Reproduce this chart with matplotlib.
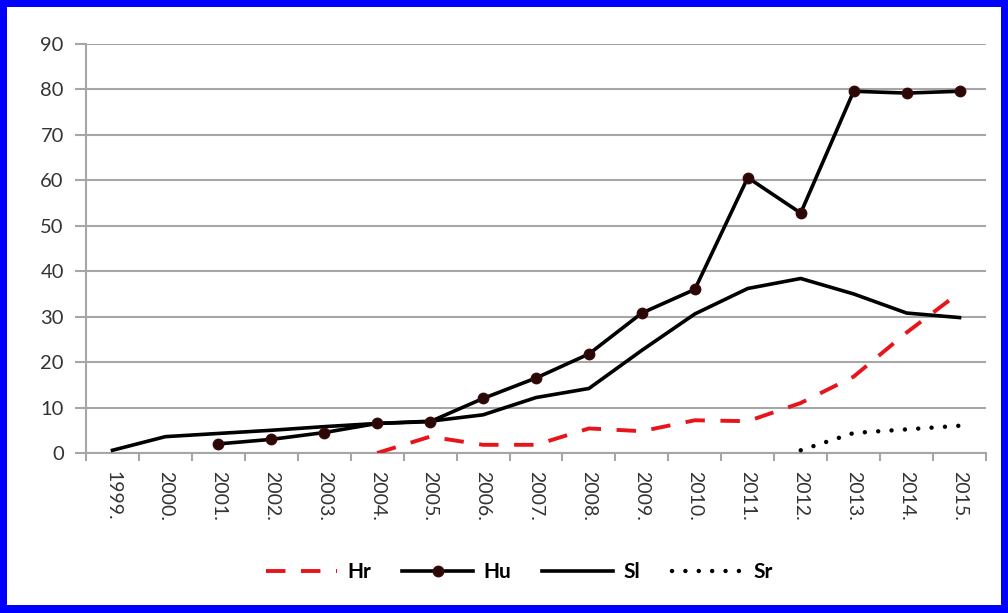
import matplotlib
matplotlib.use('Agg')
import matplotlib.pyplot as plt
import matplotlib.patches as mpatches
import numpy as np

# ======== Data ========
years = ['1999.', '2000.', '2001.', '2002.', '2003.', '2004.', '2005.', '2006.',
         '2007.', '2008.', '2009.', '2010.', '2011.', '2012.', '2013.', '2014.', '2015.']
nan = np.nan
hr = [nan, nan, nan, nan, nan, 0.0, 3.6, 1.8, 1.8, 5.4, 4.8, 7.2, 7.0, 11.0, 16.8, 26.5, 35.3]
hu = [nan, nan, 2.0, 3.0, 4.5, 6.5, 6.9, 12.0, 16.5, 21.8, 30.8, 36.0, 60.6, 52.8, 79.6, 79.2, 79.6]
sl = [0.6, 3.6, 4.3, 5.0, 5.8, 6.5, 7.0, 8.4, 12.2, 14.2, 22.6, 30.6, 36.2, 38.4, 35.0, 30.8, 29.8]
sr = [nan, nan, nan, nan, nan, nan, nan, nan, nan, nan, nan, nan, nan, 0.6, 4.4, 5.2, 6.0]
y_ticks = [0, 10, 20, 30, 40, 50, 60, 70, 80, 90]

# ======== Style ========
plt.rcParams['font.family'] = ['Lato', 'DejaVu Sans']
grid_c = '#A6A6A6'
text_c = '#333333'

fig = plt.figure(figsize=(10.08, 6.13), dpi=100)
fig.patch.set_facecolor('#0000FF')
fig.add_artist(mpatches.Rectangle((7 / 1008, 8 / 613), 994 / 1008, 598 / 613,
                                  transform=fig.transFigure, facecolor='white',
                                  edgecolor='none', zorder=0))

ax = fig.add_axes([86 / 1008, 160 / 613, 900 / 1008, 409 / 613])
ax.set_facecolor('none')
x = np.arange(len(years))

ax.plot(x, hr, color='#E8141C', lw=2.8, ls=(0, (5, 4)), label='Hr', zorder=3)
ax.plot(x, hu, color='black', lw=2.6, marker='o', markersize=7.5,
        markerfacecolor='#2A0808', markeredgecolor='#3A0A0A', label='Hu', zorder=4)
ax.plot(x, sl, color='black', lw=2.6, label='Sl', zorder=3)
ax.plot(x, sr, color='black', lw=3.2, ls=(0, (0.01, 3.0)), dash_capstyle='round',
        label='Sr', zorder=3)

ax.set_xlim(-0.5, len(years) - 0.5)
ax.set_ylim(0, 90)
ax.set_yticks(y_ticks)
ax.yaxis.grid(True, color=grid_c, lw=1.5)
ax.set_axisbelow(True)
for s in ['top', 'right']:
    ax.spines[s].set_visible(False)
for s in ['left', 'bottom']:
    ax.spines[s].set_color(grid_c)
    ax.spines[s].set_linewidth(1.5)

ax.set_xticks(x)
ax.set_xticklabels(years, rotation=-90, fontsize=14, color=text_c)
ax.set_xticks(np.arange(-0.5, len(years)), minor=True)
ax.tick_params(axis='x', which='major', length=0, pad=13)
ax.tick_params(axis='x', which='minor', length=6, width=1.5, color=grid_c, direction='out')
ax.tick_params(axis='y', length=8, width=1.5, color=grid_c, labelsize=14.5,
               labelcolor=text_c, pad=8)

fig.legend(loc='center', bbox_to_anchor=(0.515, 0.067), ncol=4, frameon=False,
           handlelength=3.4, columnspacing=1.5, handletextpad=0.5,
           prop={'size': 15, 'weight': 'bold'})

fig.savefig('out.png', dpi=100, facecolor=fig.get_facecolor())
